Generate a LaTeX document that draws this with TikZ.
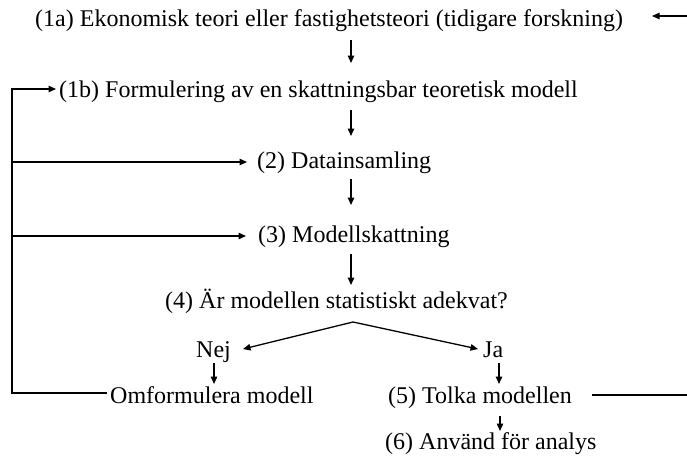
\documentclass[tikz,border=0pt]{standalone}
\usepackage{fontspec}
\setmainfont{Liberation Serif}
\usetikzlibrary{arrows.meta,calc}
\begin{document}
\begin{tikzpicture}[x=1pt,y=-1pt,
  txt/.style={anchor=base west,inner sep=0pt,font=\fontsize{24}{28}\selectfont},
  ln/.style={line width=1.3pt},
  arr/.style={ln,-{Triangle[length=7.5pt,width=6.5pt]}}]
\useasboundingbox (0,0) rectangle (687,463);
% texts
\node[txt] (n1a) at (35,26) {(1a) Ekonomisk teori eller fastighetsteori (tidigare forskning)};
\node[txt] (n1b) at (59,97) {(1b) Formulering av en skattningsbar teoretisk modell};
\node[txt] (n2) at (257,168) {(2) Datainsamling};
\node[txt] (n3) at (258,242) {(3) Modellskattning};
\node[txt] (n4) at (165,308) {(4) Är modellen statistiskt adekvat?};
\node[txt] (nej) at (196,357) {Nej};
\node[txt] (ja) at (483,357) {Ja};
\node[txt] (omf) at (110,403) {Omformulera modell};
\node[txt] (n5) at (388,403) {(5) Tolka modellen};
\node[txt] (n6) at (385,449) {(6) Använd för analys};
% helper coordinates
\coordinate (a1s) at (351,40);  \coordinate (a1e) at (351,63);
\coordinate (a2s) at (351,110); \coordinate (a2e) at (351,136);
\coordinate (a3s) at (351,179); \coordinate (a3e) at (351,205);
\coordinate (a4s) at (351,254); \coordinate (a4e) at (351,285);
\coordinate (apex) at (353,322);
\coordinate (nejT) at (243,349);
\coordinate (jaT) at (478,349);
\coordinate (nejS) at (214,363); \coordinate (nejE) at (214,384);
\coordinate (jaS) at (499,363); \coordinate (jaE) at (499,384);
\coordinate (n5S) at (500,416); \coordinate (n5E) at (500,431);
\coordinate (omfL) at (107,393);
\coordinate (LB) at (12,393);
\coordinate (LT) at (12,89);
\coordinate (n1bT) at (56,89);
\coordinate (L2) at (12,162); \coordinate (n2T) at (247,162);
\coordinate (L3) at (12,236); \coordinate (n3T) at (246,236);
\coordinate (n5R) at (592,395); \coordinate (R5) at (687,395);
\coordinate (R1) at (687,16); \coordinate (n1aT) at (652,16);
% connectors
\draw[arr] (a1s) -- (a1e);
\draw[arr] (a2s) -- (a2e);
\draw[arr] (a3s) -- (a3e);
\draw[arr] (a4s) -- (a4e);
\draw[arr] (apex) -- (nejT);
\draw[arr] (apex) -- (jaT);
\draw[arr] (nejS) -- (nejE);
\draw[arr] (jaS) -- (jaE);
\draw[arr] (n5S) -- (n5E);
\draw[arr] (omfL) -- (LB) -- (LT) -- (n1bT);
\draw[arr] (L2) -- (n2T);
\draw[arr] (L3) -- (n3T);
\draw[ln] (n5R) -- (R5);
\draw[arr] (R1) -- (n1aT);
\end{tikzpicture}
\end{document}
